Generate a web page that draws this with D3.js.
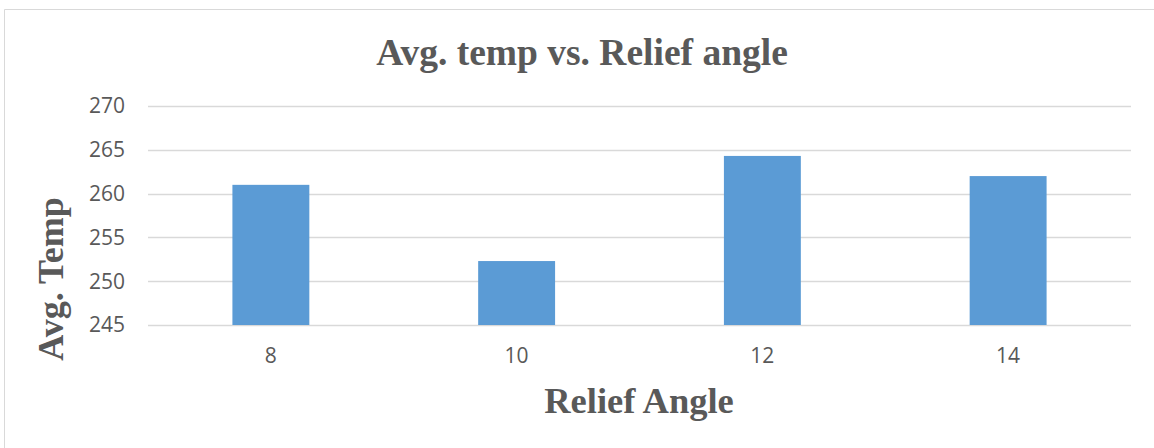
<!DOCTYPE html>
<html>
<head>
<meta charset="utf-8">
<script src="https://cdn.jsdelivr.net/npm/d3@7"></script>
<style>
    body { margin: 0; background: #fff; }
    svg { display: block; }
</style>
</head>
<body>
<div id="chart"></div>
<script>
// chart data
var angles = ["8", "10", "12", "14"];
var avgTemps = [261.0, 252.3, 264.3, 262.0];
var yTicks = [245, 250, 255, 260, 265, 270];

var width = 1154, height = 448;
var margin = {top: 106, right: 23, bottom: 123, left: 148};

var svg = d3.select("#chart")
    .append("svg")
    .attr("width", width)
    .attr("height", height);

// chart area border (only top and left show in the crop)
svg.append("path")
    .attr("d", "M4.5," + height + "V9.5H" + width)
    .style("fill", "none")
    .style("stroke", "#d9d9d9")
    .style("stroke-width", 1);

var x = d3.scaleBand()
    .domain(angles)
    .range([margin.left, width - margin.right])
    .paddingInner(0.687)
    .paddingOuter(0.3435);

var y = d3.scaleLinear()
    .domain([245, 270])
    .range([height - margin.bottom, margin.top]);

// gridlines
svg.append("g")
    .selectAll("line")
    .data(yTicks)
    .enter()
    .append("line")
    .attr("x1", margin.left)
    .attr("x2", width - margin.right)
    .attr("y1", function(d) { return Math.round(y(d)) + 0.5; })
    .attr("y2", function(d) { return Math.round(y(d)) + 0.5; })
    .style("stroke", "#d9d9d9")
    .style("stroke-width", 1.5);

// y tick labels
svg.append("g")
    .selectAll("text")
    .data(yTicks)
    .enter()
    .append("text")
    .attr("x", 125)
    .attr("y", function(d) { return y(d); })
    .attr("dy", "0.35em")
    .attr("text-anchor", "end")
    .style("font-family", "'Open Sans', sans-serif")
    .style("font-size", "21px")
    .style("fill", "#595959")
    .text(function(d) { return d; });

// bars
svg.append("g")
    .selectAll("rect")
    .data(avgTemps)
    .enter()
    .append("rect")
    .attr("x", function(d, i) { return x(angles[i]); })
    .attr("width", x.bandwidth())
    .attr("y", function(d) { return y(d); })
    .attr("height", function(d) { return y(245) - y(d); })
    .style("fill", "#5b9bd5");

// x tick labels
svg.append("g")
    .selectAll("text")
    .data(angles)
    .enter()
    .append("text")
    .attr("x", function(d) { return x(d) + x.bandwidth() / 2; })
    .attr("y", 356)
    .attr("dy", "0.35em")
    .attr("text-anchor", "middle")
    .style("font-family", "'Open Sans', sans-serif")
    .style("font-size", "21px")
    .style("fill", "#595959")
    .text(function(d) { return d; });

// titles
svg.append("text")
    .attr("x", 582)
    .attr("y", 65)
    .attr("text-anchor", "middle")
    .style("font-family", "'Liberation Serif', 'Times New Roman', serif")
    .style("font-weight", "bold")
    .style("font-size", "37.5px")
    .style("fill", "#595959")
    .text("Avg. temp vs. Relief angle");

svg.append("text")
    .attr("x", 639)
    .attr("y", 413)
    .attr("text-anchor", "middle")
    .style("font-family", "'Liberation Serif', 'Times New Roman', serif")
    .style("font-weight", "bold")
    .style("font-size", "36.5px")
    .style("fill", "#595959")
    .text("Relief Angle");

svg.append("text")
    .attr("transform", "translate(63,279) rotate(-90)")
    .attr("text-anchor", "middle")
    .style("font-family", "'Liberation Serif', 'Times New Roman', serif")
    .style("font-weight", "bold")
    .style("font-size", "36px")
    .style("fill", "#595959")
    .text("Avg. Temp");
</script>
</body>
</html>
